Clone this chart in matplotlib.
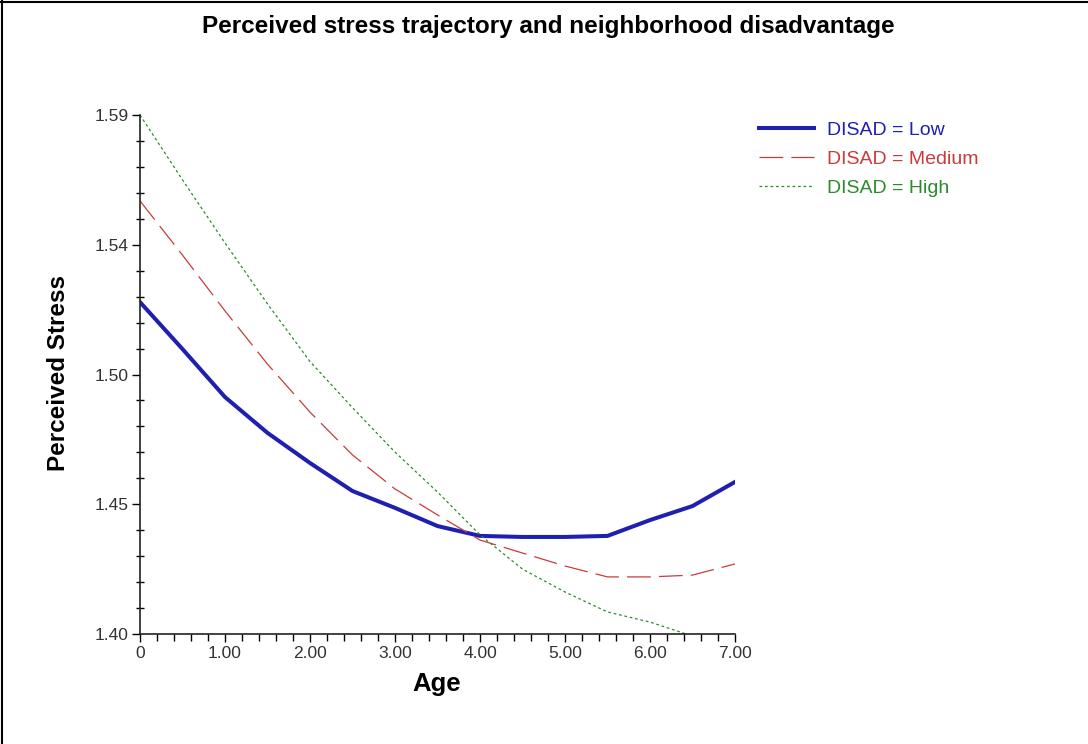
import matplotlib
matplotlib.use("Agg")
import matplotlib.pyplot as plt
from matplotlib.lines import Line2D
from matplotlib.ticker import MultipleLocator, FixedLocator

plt.rcParams['font.family'] = ['Liberation Sans', 'DejaVu Sans']

age = [0, 0.5, 1.0, 1.5, 2.0, 2.5, 3.0, 3.5, 4.0, 4.5, 5.0, 5.5, 6.0, 6.5, 7.0]
low = [1.5279, 1.5098, 1.4913, 1.4775, 1.4659, 1.4551, 1.4486, 1.4416, 1.4378,
       1.4374, 1.4374, 1.4378, 1.4439, 1.4493, 1.4586]
medium = [1.5669, 1.5460, 1.5245, 1.5040, 1.4855, 1.4690, 1.4559, 1.4459, 1.4362,
          1.4312, 1.4262, 1.4220, 1.4220, 1.4227, 1.4270]
high = [1.6000, 1.5750, 1.5507, 1.5272, 1.5050, 1.4872, 1.4701, 1.4547, 1.4382,
        1.4250, 1.4162, 1.4085, 1.4046, 1.3992, 1.3954]

labels = ['DISAD = Low', 'DISAD = Medium', 'DISAD = High']
xticks = [0, 1, 2, 3, 4, 5, 6, 7]
xticklabels = ['0', '1.00', '2.00', '3.00', '4.00', '5.00', '6.00', '7.00']
yticks = [1.40, 1.45, 1.50, 1.55, 1.60]
yticklabels = ['1.40', '1.45', '1.50', '1.54', '1.59']

c_low = '#1f1fb0'
c_med = '#c83c3c'
c_high = '#2a8c2a'

fig = plt.figure(figsize=(10.88, 7.44), dpi=100)
ax = fig.add_axes([140/1088, 1-634/744, 595/1088, 519/744])

ax.plot(age, low, color=c_low, lw=2.9, label=labels[0], solid_joinstyle='round')
ax.plot(age, medium, color=c_med, lw=0.9, dashes=(19, 6.5), label=labels[1])
ax.plot(age, high, color=c_high, lw=0.9, dashes=(2.2, 2.2), label=labels[2])

ax.set_xlim(0, 7)
ax.set_ylim(1.40, 1.60)
ax.xaxis.set_major_locator(FixedLocator(xticks))
ax.set_xticklabels(xticklabels)
ax.xaxis.set_minor_locator(MultipleLocator(0.2))
ax.yaxis.set_major_locator(FixedLocator(yticks))
ax.set_yticklabels(yticklabels)
ax.yaxis.set_minor_locator(MultipleLocator(0.01))

for s in ['top', 'right']:
    ax.spines[s].set_visible(False)
for s in ['left', 'bottom']:
    ax.spines[s].set_linewidth(1.2)
    ax.spines[s].set_color('#222222')

ax.tick_params(axis='x', which='major', direction='out', length=6, width=1, labelsize=12.5,
               pad=3, labelcolor='#333333')
ax.tick_params(axis='x', which='minor', direction='out', length=5, width=1)
ax.tick_params(axis='y', which='major', direction='out', length=6, width=1, labelsize=12.5,
               pad=2, labelcolor='#333333')
ax.tick_params(axis='y', which='minor', direction='inout', length=6, width=1)

ax.set_xlabel('Age', fontsize=18.5, fontweight='bold')
ax.xaxis.set_label_coords(0.499, -0.074)
ax.set_ylabel('Perceived Stress', fontsize=17.5, fontweight='bold')
ax.yaxis.set_label_coords(-0.117, 0.503)

fig.text(0.504, 1-26/744, 'Perceived stress trajectory and neighborhood disadvantage',
         ha='center', va='center', fontsize=17.5, fontweight='bold')

leg = fig.legend(loc='upper left', bbox_to_anchor=(759/1088, 1-121/744), frameon=False,
                 fontsize=14, handlelength=2.85, handletextpad=0.65, labelspacing=0.6,
                 borderpad=0, borderaxespad=0, labelcolor='linecolor')

fig.add_artist(Line2D([0, 1], [1-2/744, 1-2/744], transform=fig.transFigure, color='black', lw=1.5))
fig.add_artist(Line2D([2/1088, 2/1088], [0, 1], transform=fig.transFigure, color='black', lw=1.5))

fig.savefig('out.png', dpi=100)
